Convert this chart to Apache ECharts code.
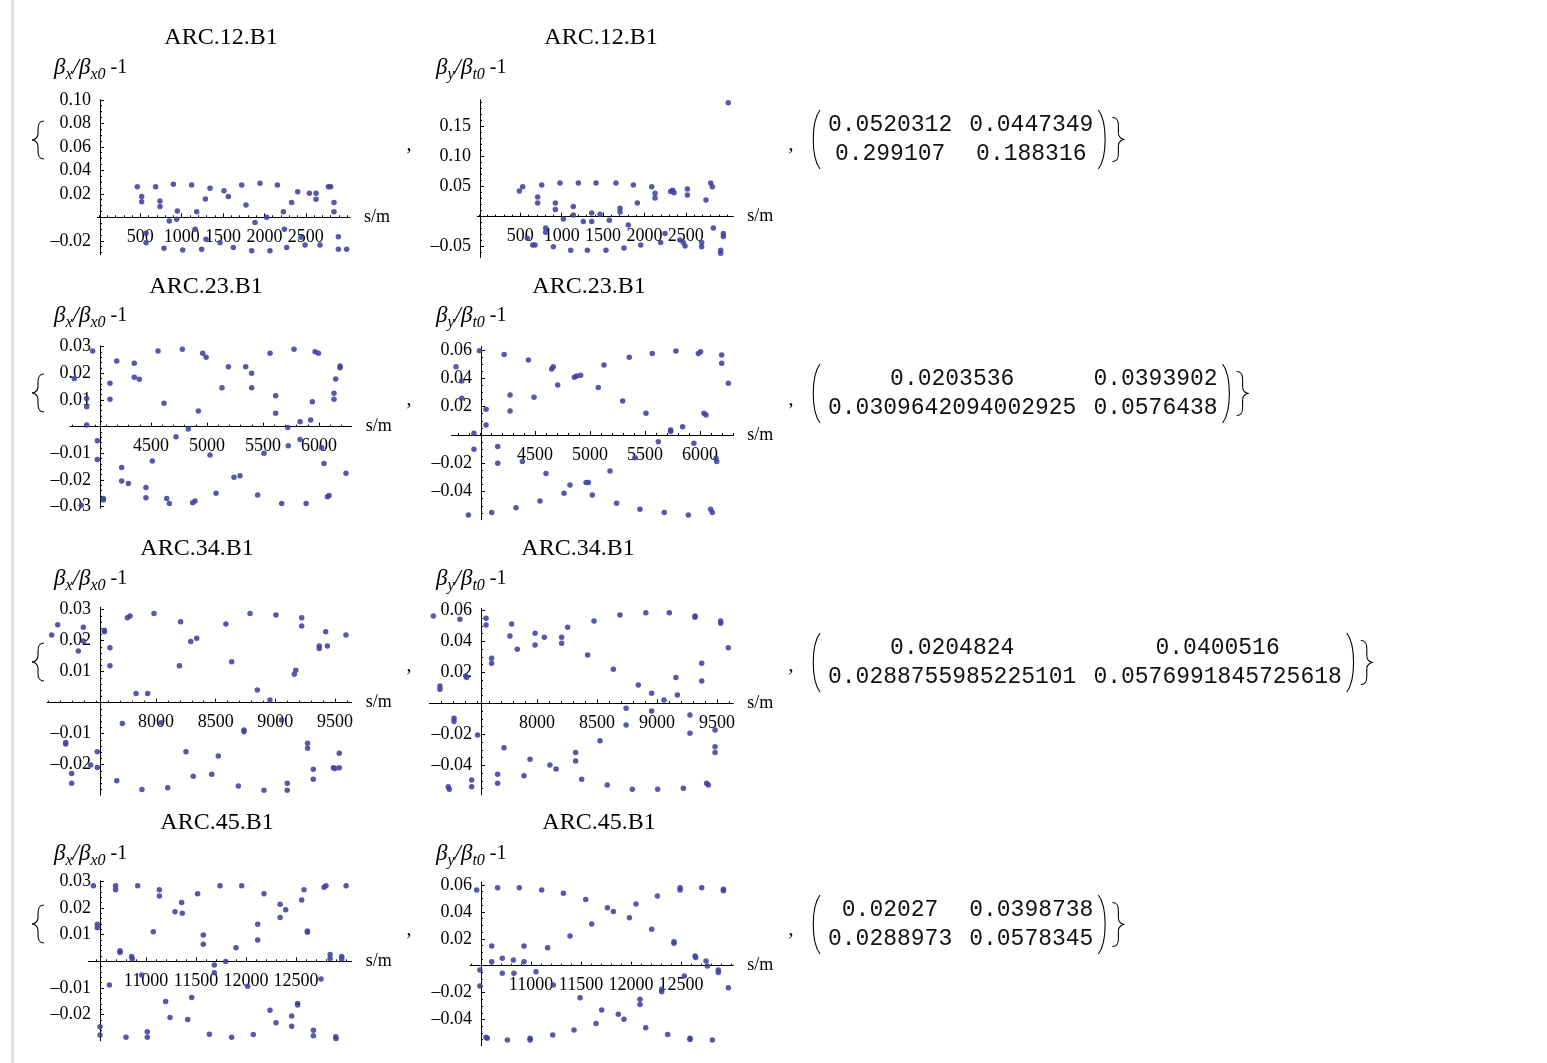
<!DOCTYPE html>
<html><head><meta charset="utf-8">
<script src="https://cdn.jsdelivr.net/npm/echarts@6/dist/echarts.min.js"></script>
<style>html,body{margin:0;padding:0;background:#fff}#c{width:1547px;height:1063px}</style>
</head><body><div id="c"></div><script>
// ---------- DATA (s in m, relative beta-beat) ----------
const arc12X = [[463,0.026],[516,0.0176],[516,0.0133],[685,0.026],[737,0.0139],[737,0.0091],[899,0.0281],[1120,0.0275],[1286,0.0156],[1342,0.0247],[1511,0.0227],[1564,0.0176],[1725,0.0275],[1777,0.0105],[1946,0.0289],[2156,0.0275],[2329,0.0125],[2402,0.0218],[2543,0.0204],[2624,0.0204],[2624,0.0153],[2773,0.026],[2801,0.026],[2841,0.0125],[2841,0.0048],[850,-0.0031],[947,0.0054],[939,-0.0017],[1181,0.0048],[2027,0.0],[1886,-0.0045],[2229,0.0048],[568,-0.0136],[568,-0.0216],[786,-0.0264],[1012,-0.0278],[1161,-0.0102],[1241,-0.0272],[1294,-0.0187],[1463,-0.0216],[1624,-0.0258],[1846,-0.0284],[2067,-0.0284],[2269,-0.0258],[2241,-0.0102],[2442,-0.017],[2491,-0.0235],[2672,-0.0235],[2894,-0.0165],[2894,-0.0272],[2994,-0.0272]];
const arc12Y = [[488,0.043],[528,0.050],[709,0.033],[709,0.023],[758,0.053],[923,0.023],[923,0.012],[979,0.056],[1140,0.017],[1201,0.056],[1415,0.056],[1656,0.056],[1866,0.053],[2088,0.050],[2128,0.039],[2128,0.031],[2317,0.042],[2341,0.044],[2358,0.040],[2519,0.036],[2519,0.046],[2744,0.028],[2801,0.056],[2821,0.050],[1020,-0.004],[1140,0.003],[1261,-0.008],[1362,-0.008],[1362,0.006],[1463,0.004],[1576,-0.006],[1705,0.014],[1705,0.008],[1805,-0.014],[1914,0.023],[584,-0.036],[649,-0.047],[677,-0.047],[806,-0.019],[806,-0.026],[899,-0.050],[1108,-0.056],[1310,-0.056],[1535,-0.056],[1753,-0.052],[1955,-0.047],[2196,-0.043],[2249,-0.028],[2430,-0.039],[2470,-0.043],[2491,-0.049],[2692,-0.043],[2692,-0.050],[2833,-0.019],[2954,-0.028],[2954,-0.033],[2922,-0.056],[2922,-0.061],[3014,0.190]];
const arc23X = [[3815,0.0181],[3926,0.0106],[3926,0.0075],[3926,0.0006],[3979,0.0284],[4021,-0.0053],[4021,-0.0123],[4075,-0.0269],[4075,-0.0275],[3878,-0.0295],[4134,0.0163],[4134,0.0103],[4194,0.0246],[4238,-0.0153],[4238,-0.0204],[4298,-0.0213],[4351,0.0238],[4351,0.0185],[4396,0.0178],[4455,-0.0228],[4455,-0.0266],[4512,-0.0129],[4616,0.0088],[4563,0.0284],[4640,-0.0269],[4664,-0.0288],[4723,-0.0038],[4780,0.029],[4833,-0.0009],[4872,-0.0285],[4893,-0.0279],[4923,0.0059],[4962,0.0275],[4992,0.026],[5027,-0.0106],[5081,-0.025],[5134,0.0146],[5191,0.0225],[5241,-0.019],[5295,-0.0184],[5346,0.0225],[5399,0.02],[5399,0.0146],[5452,-0.0256],[5509,-0.01],[5563,0.0275],[5613,0.0116],[5613,0.005],[5667,-0.0288],[5721,-0.0003],[5726,-0.0071],[5777,0.029],[5831,0.0019],[5831,-0.0048],[5885,-0.0288],[5926,0.0025],[5941,0.0094],[5965,0.0281],[5995,0.0275],[6024,-0.0079],[6045,-0.0138],[6075,-0.0263],[6090,-0.0258],[6134,0.0125],[6134,0.0103],[6149,0.0179],[6188,0.0228],[6188,0.0221],[6241,-0.0175]];
const arc23Y = [[3782,0.0482],[3834,0.0381],[3834,0.0259],[3945,0.0012],[3945,-0.0101],[3995,0.0595],[4055,0.0181],[4055,0.0071],[3894,-0.0565],[4106,-0.0548],[4161,-0.0082],[4161,-0.02],[4219,0.0569],[4273,0.0282],[4273,0.0169],[4327,-0.0513],[4385,-0.0188],[4440,0.0529],[4491,0.0266],[4545,-0.0466],[4600,-0.0271],[4651,0.0466],[4666,0.0482],[4706,0.0353],[4764,-0.0412],[4818,-0.0353],[4858,0.0407],[4879,0.0416],[4915,0.0421],[4964,-0.0336],[4985,-0.0336],[5021,-0.0424],[5075,0.0336],[5127,0.0494],[5182,-0.0254],[5242,-0.0482],[5297,0.024],[5357,0.0548],[5409,-0.016],[5454,-0.0525],[5509,0.0153],[5566,0.0576],[5621,-0.0047],[5675,-0.0548],[5733,0.0035],[5733,0.0024],[5781,0.0593],[5842,0.0059],[5894,-0.0565],[5945,-0.0059],[5985,0.0576],[6006,0.0588],[6036,0.0153],[6055,0.0141],[6097,-0.0525],[6112,-0.0548],[6145,-0.0165],[6152,-0.0188],[6197,0.0565],[6197,0.0506],[6258,0.0365]];
const arc34X = [[7126,0.0218],[7176,0.0251],[7243,-0.0128],[7243,-0.0133],[7293,-0.0228],[7293,-0.026],[7349,0.0167],[7391,0.0243],[7391,0.0199],[7452,-0.0201],[7508,-0.0209],[7508,-0.0158],[7567,0.0234],[7567,0.0229],[7614,0.0177],[7614,0.0119],[7671,-0.0252],[7718,-0.0067],[7760,0.0274],[7782,0.028],[7833,0.003],[7882,-0.028],[7930,0.003],[7983,0.0288],[8041,-0.0065],[8098,-0.0274],[8196,0.0119],[8206,0.0261],[8251,-0.0158],[8291,0.0197],[8312,-0.0237],[8341,0.0208],[8467,-0.0231],[8522,-0.0172],[8586,0.0254],[8634,0.0132],[8690,-0.0269],[8737,-0.0088],[8737,-0.0094],[8788,0.0288],[8849,0.0041],[8905,-0.0282],[8955,0.0009],[9005,0.0283],[9053,-0.0056],[9100,-0.026],[9100,-0.0282],[9159,0.0092],[9171,0.0105],[9221,0.0274],[9221,0.0247],[9270,-0.0131],[9270,-0.0147],[9318,-0.0215],[9318,-0.0247],[9368,0.0183],[9368,0.0175],[9422,0.0229],[9436,0.0183],[9486,-0.021],[9500,-0.0212],[9536,-0.021],[9536,-0.0163],[9592,0.0218]];
const arc34Y = [[7137,0.0563],[7192,0.0112],[7192,0.009],[7309,-0.0097],[7309,-0.0118],[7261,-0.0538],[7270,-0.0555],[7358,0.0542],[7406,0.0176],[7415,0.0166],[7456,-0.0495],[7456,-0.0538],[7505,-0.0204],[7576,0.0548],[7576,0.0505],[7622,0.029],[7622,0.0258],[7672,-0.0458],[7672,-0.0516],[7725,-0.0286],[7775,0.0434],[7789,0.0512],[7836,0.0348],[7892,-0.0467],[7942,-0.0361],[7984,0.0452],[7984,0.0376],[8061,0.0426],[8108,-0.0398],[8159,-0.0424],[8205,0.0426],[8205,0.0387],[8255,0.049],[8322,-0.0318],[8322,-0.0372],[8372,-0.049],[8422,0.0312],[8475,0.0531],[8525,-0.0241],[8585,-0.0527],[8636,0.0219],[8691,0.057],[8742,-0.0032],[8742,-0.014],[8794,-0.0555],[8844,0.0118],[8906,0.0585],[8955,0.0065],[8955,-0.0049],[9005,-0.0555],[9058,0.0022],[9102,0.0585],[9157,0.0166],[9169,0.0054],[9219,-0.0548],[9274,-0.0075],[9274,-0.0194],[9316,0.0563],[9316,0.0555],[9372,0.0258],[9372,0.0144],[9413,-0.0516],[9427,-0.0527],[9483,-0.0172],[9483,-0.028],[9483,-0.0318],[9530,0.0531],[9530,0.0516],[9593,0.0359]];
const arc45X = [[10474,0.0283],[10513,0.0139],[10513,0.0126],[10540,-0.0245],[10540,-0.0276],[10634,-0.0089],[10696,0.0283],[10696,0.0268],[10740,0.004],[10740,0.0033],[10800,-0.0285],[10856,0.0018],[10863,0.0009],[10917,0.0283],[10957,-0.0051],[11013,-0.0264],[11013,-0.0285],[11073,0.0111],[11134,0.0268],[11134,0.0245],[11196,-0.0151],[11240,-0.0211],[11290,0.0186],[11356,0.0221],[11363,0.018],[11417,-0.0218],[11457,-0.0136],[11516,0.0253],[11573,0.0099],[11573,0.0064],[11634,-0.0273],[11683,-0.0014],[11683,-0.0043],[11740,0.0283],[11797,-0.0001],[11856,-0.0285],[11900,0.0051],[11957,0.0283],[12016,-0.0093],[12073,-0.0274],[12117,0.0139],[12117,0.008],[12180,0.0253],[12240,-0.0183],[12300,-0.023],[12341,0.0214],[12341,0.0164],[12397,0.0193],[12457,-0.0205],[12457,-0.0243],[12516,-0.0158],[12516,-0.0164],[12557,0.023],[12580,0.0268],[12614,0.0114],[12614,0.0109],[12674,-0.0258],[12674,-0.0279],[12750,-0.0066],[12780,0.0278],[12800,0.0283],[12841,0.0026],[12841,0.0011],[12897,-0.0283],[12900,-0.0289],[12957,0.0018],[12957,0.0009],[13001,0.0283]];
const arc45Y = [[10457,0.0563],[10489,-0.0032],[10489,-0.0151],[10550,-0.0533],[10563,-0.054],[10607,0.0146],[10607,0.003],[10666,0.058],[10713,0.0055],[10713,-0.0057],[10763,-0.0553],[10824,0.0042],[10829,-0.0057],[10883,0.058],[10930,0.003],[10930,0.0146],[10991,-0.054],[10991,-0.0553],[11050,-0.0045],[11107,0.0563],[11166,0.0134],[11223,-0.0144],[11217,-0.0516],[11324,0.0538],[11390,0.0221],[11430,-0.0478],[11491,-0.0238],[11547,0.0493],[11607,0.031],[11651,-0.0429],[11707,-0.033],[11764,0.0431],[11824,0.0402],[11873,-0.0362],[11930,-0.0399],[11984,0.0357],[12050,0.0459],[12090,-0.025],[12090,-0.0288],[12147,-0.0461],[12207,0.027],[12264,0.0518],[12307,-0.0176],[12307,-0.0193],[12367,-0.0511],[12430,0.0178],[12430,0.0166],[12491,0.058],[12491,0.0563],[12533,-0.0077],[12590,-0.054],[12590,-0.0548],[12641,0.0072],[12647,0.006],[12707,0.058],[12750,0.0035],[12764,-0.0002],[12814,-0.0553],[12873,-0.0032],[12873,-0.005],[12924,0.0568],[12924,0.0558],[12974,-0.0164]];

// tick labels
const xTicks12 = [500,1000,1500,2000,2500];
const xTicks23 = [4500,5000,5500,6000];
const xTicks34 = [8000,8500,9000,9500];
const xTicks45 = [11000,11500,12000,12500];
const yTicksA = [-0.02,0.02,0.04,0.06,0.08,0.10];
const yTicksB = [-0.05,0.05,0.10,0.15];
const yTicksC = [-0.03,-0.02,-0.01,0.01,0.02,0.03];
const yTicksD = [-0.04,-0.02,0.02,0.04,0.06];
const yTicksE = [-0.02,-0.01,0.01,0.02,0.03];

// titles and matrices
const arcNames = ['ARC.12.B1','ARC.23.B1','ARC.34.B1','ARC.45.B1'];
const matrix12 = [['0.0520312','0.0447349'],['0.299107','0.188316']];
const matrix23 = [['0.0203536','0.0393902'],['0.0309642094002925','0.0576438']];
const matrix34 = [['0.0204824','0.0400516'],['0.0288755985225101','0.0576991845725618']];
const matrix45 = [['0.02027','0.0398738'],['0.0288973','0.0578345']];

// ---------- LAYOUT ----------
const PLOTS = [
  {data:arc12X, xMaj:xTicks12, yMaj:yTicksA, yMin:0.005, xr:[-20,3035], yr:[-0.032,0.10], box:[97.35,99.8,252.7,155.1], ax:100},
  {data:arc12Y, xMaj:xTicks12, yMaj:yTicksB, yMin:0.01, xr:[-20,3075], yr:[-0.068,0.195], box:[477.35,99.7,256.0,157.8], ax:480},
  {data:arc23X, xMaj:xTicks23, yMaj:yTicksC, yMin:0.002, xr:[3777,6292], yr:[-0.0306,0.0303], box:[70.0,345.9,281.7,162.4], ax:100},
  {data:arc23Y, xMaj:xTicks23, yMaj:yTicksD, yMin:0.005, xr:[3742,6303], yr:[-0.0598,0.0624], box:[451.65,346.6,281.65,173.1], ax:481},
  {data:arc34X, xMaj:xTicks34, yMaj:yTicksE, yMin:0.002, xr:[7089,9640], yr:[-0.0298,0.0308], box:[47.3,607.2,304.4,187.9], ax:100},
  {data:arc34Y, xMaj:xTicks34, yMaj:yTicksD, yMin:0.005, xr:[7104,9635], yr:[-0.0591,0.0613], box:[429.4,608.3,303.9,186.6], ax:481},
  {data:arc45X, xMaj:xTicks45, yMaj:yTicksE, yMin:0.002, xr:[10423,13057], yr:[-0.0298,0.0302], box:[88.3,880.8,263.4,160.0], ax:100},
  {data:arc45Y, xMaj:xTicks45, yMaj:yTicksD, yMin:0.005, xr:[10390,13023], yr:[-0.0595,0.062], box:[470.0,882.3,263.3,163.4], ax:481}
];
const ROWS = [
  {tY:38, lY:68, tx:[221,601], brace:140, comma:145, mat:matrix12, my:[125,154]},
  {tY:287, lY:316, tx:[206,589], brace:393, comma:400, mat:matrix23, my:[379,408]},
  {tY:549, lY:579, tx:[197,578], brace:662, comma:666, mat:matrix34, my:[648,677]},
  {tY:823, lY:854, tx:[217,599], brace:924, comma:930, mat:matrix45, my:[910,939]}
];

function steps(a,b,st){const o=[];let k=Math.ceil(a/st-1e-9);for(;k*st<=b+1e-9;k++){o.push(+(k*st).toFixed(6));}return o;}
const SERIF='"Liberation Serif","Times New Roman",serif';
const MONO='"Liberation Mono","Courier New",monospace';
const AX='#000';
const yFmt=v=>v===0?'':(v<0?'\u2013':'')+Math.abs(v).toFixed(2);

const grids=[],xAxes=[],yAxes=[],series=[];
PLOTS.forEach((p,i)=>{
  const [L,T,W,H]=p.box;
  const zeroToBottom=H*(-p.yr[0])/(p.yr[1]-p.yr[0]);
  grids.push({left:L,top:T,width:W,height:H,containLabel:false,outerBoundsMode:'none',show:false});
  xAxes.push({type:'value',gridIndex:i,min:p.xr[0],max:p.xr[1],position:'bottom',
    axisLine:{show:true,onZero:true,lineStyle:{color:AX,width:1}},
    axisTick:{show:true,inside:true,length:4,customValues:p.xMaj,lineStyle:{color:AX,width:1}},
    axisLabel:{show:true,customValues:p.xMaj,margin:11-zeroToBottom,color:'#000',fontFamily:SERIF,fontSize:18,formatter:v=>String(Math.round(v))},
    splitLine:{show:false},minorTick:{show:false},
    name:'s/m',nameLocation:'end',nameGap:14,nameTextStyle:{fontFamily:SERIF,fontSize:18,color:'#000',verticalAlign:'middle'}});
  xAxes.push({type:'value',gridIndex:i,min:p.xr[0],max:p.xr[1],position:'bottom',
    axisLine:{show:false,onZero:true},
    axisTick:{show:true,inside:true,length:2,customValues:steps(p.xr[0],p.xr[1],100),lineStyle:{color:AX,width:1}},
    axisLabel:{show:false},splitLine:{show:false}});
  const off=-(p.ax-L);
  yAxes.push({type:'value',gridIndex:i,min:p.yr[0],max:p.yr[1],position:'left',offset:off,
    axisLine:{show:true,onZero:false,lineStyle:{color:AX,width:1}},
    axisTick:{show:true,inside:true,length:4,customValues:p.yMaj,lineStyle:{color:AX,width:1}},
    axisLabel:{show:true,customValues:p.yMaj,margin:9,color:'#000',fontFamily:SERIF,fontSize:18,formatter:yFmt},
    splitLine:{show:false}});
  yAxes.push({type:'value',gridIndex:i,min:p.yr[0],max:p.yr[1],position:'left',offset:off,
    axisLine:{show:false,onZero:false},
    axisTick:{show:true,inside:true,length:2,customValues:steps(p.yr[0],p.yr[1],p.yMin),lineStyle:{color:AX,width:1}},
    axisLabel:{show:false},splitLine:{show:false}});
  series.push({type:'scatter',xAxisIndex:2*i,yAxisIndex:2*i,data:p.data,symbol:'circle',symbolSize:5.5,
    itemStyle:{color:'#4040a0',opacity:0.88},clip:false,silent:true});
});

// ---------- TEXT / DECORATION ----------
const LS={stroke:'#000',fill:'none',lineWidth:1.1};
function bz(x1,y1,a,b,c,d,x2,y2){return {type:'bezierCurve',silent:true,shape:{x1:x1,y1:y1,cpx1:a,cpy1:b,cpx2:c,cpy2:d,x2:x2,y2:y2},style:LS};}
function ln(x1,y1,x2,y2){return {type:'line',silent:true,shape:{x1:x1,y1:y1,x2:x2,y2:y2},style:LS};}
function brace(xl,m,h,dir){ // dir=1 '{' (tip at xl), dir=-1 '}'
  const xs=xl+dir*6, xe=xl+dir*12;
  return [
    bz(xe,m-h, xs+dir,m-h, xs,m-h+3, xs,m-h+8),
    ln(xs,m-h+8, xs,m-6),
    bz(xs,m-6, xs,m-2, xl+dir*2,m, xl,m),
    bz(xl,m, xl+dir*2,m, xs,m+2, xs,m+6),
    ln(xs,m+6, xs,m+h-8),
    bz(xs,m+h-8, xs,m+h-3, xs+dir,m+h, xe,m+h)
  ];
}
const g=[];
g.push({type:'rect',shape:{x:11,y:0,width:3,height:1063},style:{fill:'#d5e8d5'},silent:true});
const richL={
  g:{fontFamily:SERIF,fontStyle:'italic',fontSize:23,lineHeight:30,verticalAlign:'middle',fill:'#000'},
  s:{fontFamily:SERIF,fontStyle:'italic',fontSize:16,lineHeight:30,verticalAlign:'bottom',fill:'#000'},
  n:{fontFamily:SERIF,fontSize:20,lineHeight:30,verticalAlign:'middle',fill:'#000'}
};
ROWS.forEach((r,ri)=>{
  [0,1].forEach(c=>{
    g.push({type:'text',x:r.tx[c],y:r.tY,silent:true,style:{text:arcNames[ri],font:'24px '+SERIF,fill:'#000',align:'center',verticalAlign:'middle'}});
    const lbl=c===0?'{g|β}{s|x}{g|/β}{s|x0}{n| -1}':'{g|β}{s|y}{g|/β}{s|t0}{n| -1}';
    g.push({type:'text',x:c===0?54:436,y:r.lY,silent:true,style:{text:lbl,rich:richL,align:'left',verticalAlign:'middle'}});
  });
  brace(32,r.brace,19,1).forEach(e=>g.push(e));
  g.push({type:'text',x:409,y:r.comma,silent:true,style:{text:',',font:'20px '+SERIF,fill:'#000',align:'center',verticalAlign:'middle'}});
  g.push({type:'text',x:791,y:r.comma,silent:true,style:{text:',',font:'20px '+SERIF,fill:'#000',align:'center',verticalAlign:'middle'}});
  const M=r.mat, cw=13.8, gap=17, x0=828;
  const w1=Math.max(M[0][0].length,M[1][0].length)*cw;
  const w2=Math.max(M[0][1].length,M[1][1].length)*cw;
  const c1=x0+w1/2, c2=x0+w1+gap+w2/2, end=x0+w1+gap+w2;
  [0,1].forEach(k=>{
    g.push({type:'text',x:c1,y:r.my[k],silent:true,style:{text:M[k][0],font:'23px '+MONO,fill:'#111',align:'center',verticalAlign:'middle'}});
    g.push({type:'text',x:c2,y:r.my[k],silent:true,style:{text:M[k][1],font:'23px '+MONO,fill:'#111',align:'center',verticalAlign:'middle'}});
  });
  const top=r.my[0]-15, bot=r.my[1]+15, mid=(r.my[0]+r.my[1])/2;
  g.push(bz(820,top, 811,top+12, 811,bot-12, 820,bot));
  g.push(bz(end+5,top, end+14,top+12, end+14,bot-12, end+5,bot));
  brace(end+31,mid,22,-1).forEach(e=>g.push(e));
});

const chart=echarts.init(document.getElementById('c'),null,{renderer:'canvas'});
chart.setOption({
  animation:false,backgroundColor:'#fff',
  textStyle:{fontFamily:SERIF},
  grid:grids,xAxis:xAxes,yAxis:yAxes,series:series,graphic:{elements:g}
});
</script></body></html>
